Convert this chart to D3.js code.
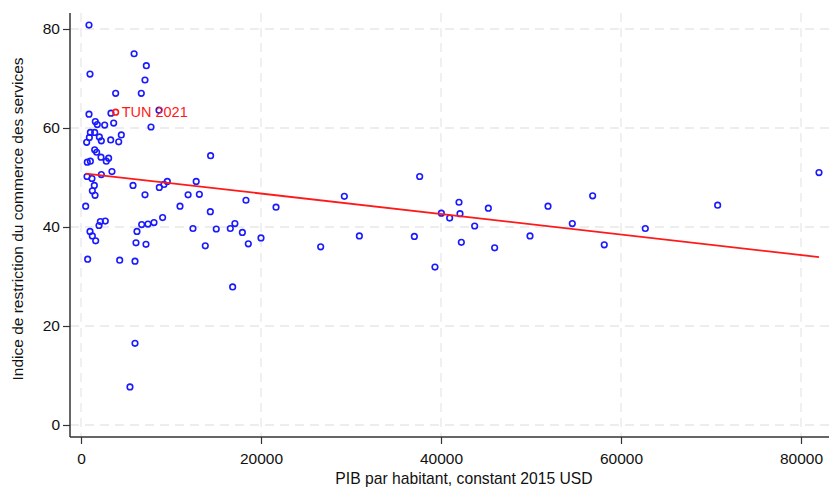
<!DOCTYPE html>
<head>
<meta charset="utf-8">
<script src="https://d3js.org/d3.v7.min.js"></script>
<style>
  body { margin: 0; background: #fff; }
  text { font-family: "Liberation Sans", Arial, sans-serif; }
</style>
</head>
<body>
<svg width="829" height="488"></svg>
<script>

// PIB par habitant (USD constants 2015)
let gdp = [889, 5900, 7260, 1000, 7110, 3850, 6700, 890, 3330, 8670,
  1590, 1810, 2630, 3630, 7780, 1040, 1520, 2040, 4480, 930,
  630, 2260, 3300, 4190, 1520, 1740, 2220, 3070, 2810, 1040,
  700, 670, 1220, 2260, 3440, 1480, 1260, 1560, 520, 5780,
  7110, 8700, 9220, 9590, 2150, 2700, 2000, 6740, 7440, 8110,
  9070, 6220, 1000, 1260, 1630, 6110, 7220, 12800, 11900, 13150,
  11000, 12440, 740, 4300, 6000, 6000, 5440, 14400, 18330, 14370,
  21670, 15030, 16590, 17100, 17930, 20000, 13810, 18590, 26630, 16850,
  29260, 37630, 30930, 37040, 39330, 40040, 40960, 42110, 42000, 43740,
  42260, 45260, 45960, 49890, 51890, 54590, 56850, 58140, 62700, 70740,
  82000];

// Indice de restriction du commerce des services
let stri = [80.8, 75.0, 72.6, 70.9, 69.7, 67.0, 67.0, 62.8, 63.0, 63.6,
  61.3, 60.7, 60.6, 61.0, 60.2, 59.1, 59.1, 58.2, 58.6, 58.1,
  57.1, 57.4, 57.6, 57.2, 55.6, 55.1, 54.1, 53.9, 53.3, 53.3,
  53.1, 50.2, 49.8, 50.6, 51.2, 48.4, 47.3, 46.4, 44.2, 48.4,
  46.5, 48.0, 48.6, 49.2, 41.1, 41.2, 40.3, 40.5, 40.6, 40.9,
  41.9, 39.1, 39.1, 38.2, 37.2, 36.8, 36.5, 49.2, 46.5, 46.6,
  44.2, 39.7, 33.5, 33.3, 33.1, 16.5, 7.7, 54.4, 45.4, 43.1,
  44.0, 39.6, 39.7, 40.7, 38.9, 37.8, 36.2, 36.6, 36.0, 27.9,
  46.2, 50.2, 38.2, 38.1, 31.9, 42.8, 41.8, 42.7, 45.0, 40.2,
  36.9, 43.8, 35.8, 38.2, 44.2, 40.7, 46.3, 36.4, 39.7, 44.4,
  51.0];

// point mis en évidence
let highlight = { label: "TUN 2021", gdp: 3850, stri: 63.2 };

// droite d'ajustement linéaire
let fitIntercept = 50.9,
    fitSlope = -0.000207;

let xTicks = [0, 20000, 40000, 60000, 80000],
    yTicks = [0, 20, 40, 60, 80];

let svg = d3.select("svg");

let x = d3.scaleLinear().domain([0, 80000]).range([81, 801]);
let y = d3.scaleLinear().domain([0, 80]).range([425, 29]);

let pLeft = 70, pBottom = 437, pTop = 13, pRight = 829;

// grille
svg.append("g")
  .selectAll("line")
  .data(yTicks)
  .enter().append("line")
    .attr("x1", pLeft).attr("x2", pRight)
    .attr("y1", y).attr("y2", y)
    .attr("stroke", "#e8e8e8")
    .attr("stroke-width", 1.3)
    .attr("stroke-dasharray", "9,6");

svg.append("g")
  .selectAll("line")
  .data(xTicks)
  .enter().append("line")
    .attr("x1", x).attr("x2", x)
    .attr("y1", pTop).attr("y2", pBottom)
    .attr("stroke", "#e8e8e8")
    .attr("stroke-width", 1.3)
    .attr("stroke-dasharray", "9,6");

// axes
let xAxis = svg.append("g")
    .attr("transform", "translate(0," + pBottom + ")")
    .call(d3.axisBottom(x).tickValues(xTicks).tickFormat(d3.format("d")).tickSize(7).tickSizeOuter(0));
xAxis.select(".domain").attr("d", "M" + pLeft + ",0H" + pRight);

let yAxis = svg.append("g")
    .attr("transform", "translate(" + pLeft + ",0)")
    .call(d3.axisLeft(y).tickValues(yTicks).tickSize(7).tickSizeOuter(0));
yAxis.select(".domain").attr("d", "M0," + pTop + "V" + pBottom);

svg.selectAll(".domain").attr("stroke", "#333").attr("stroke-width", 1.5);
svg.selectAll(".tick line").attr("stroke", "#333").attr("stroke-width", 1.2);
svg.selectAll(".tick text")
    .attr("font-family", "'Liberation Sans', Arial, sans-serif")
    .attr("font-size", 15.5)
    .attr("fill", "#111");
xAxis.selectAll(".tick text").attr("dy", "1.1em");
yAxis.selectAll(".tick text").attr("x", -10);

svg.append("text")
    .attr("x", 464)
    .attr("y", 484)
    .attr("text-anchor", "middle")
    .attr("font-size", 15.7)
    .attr("fill", "#111")
    .text("PIB par habitant, constant 2015 USD");

svg.append("text")
    .attr("transform", "translate(23,219)rotate(-90)")
    .attr("text-anchor", "middle")
    .attr("font-size", 15.5)
    .attr("fill", "#111")
    .text("Indice de restriction du commerce des services");

// nuage de points
let pts = d3.zip(gdp, stri);
svg.append("g")
  .selectAll("circle")
  .data(pts)
  .enter().append("circle")
    .attr("cx", d => x(d[0]))
    .attr("cy", d => y(d[1]))
    .attr("r", 2.8)
    .attr("fill", "none")
    .attr("stroke", "#1a1aff")
    .attr("stroke-width", 1.6);

// droite d'ajustement
let xr = d3.extent(gdp);
svg.append("line")
    .attr("x1", x(xr[0])).attr("y1", y(fitIntercept + fitSlope * xr[0]))
    .attr("x2", x(xr[1])).attr("y2", y(fitIntercept + fitSlope * xr[1]))
    .attr("stroke", "#ff1a1a")
    .attr("stroke-width", 1.8);

// TUN 2021
svg.append("circle")
    .attr("cx", x(highlight.gdp))
    .attr("cy", y(highlight.stri))
    .attr("r", 2.8)
    .attr("fill", "none")
    .attr("stroke", "#ff1a1a")
    .attr("stroke-width", 1.6);

svg.append("text")
    .attr("x", x(highlight.gdp) + 6)
    .attr("y", y(highlight.stri))
    .attr("dy", "0.35em")
    .attr("font-size", 14.5)
    .attr("fill", "#ff1a1a")
    .text(highlight.label);

</script>
</body>
